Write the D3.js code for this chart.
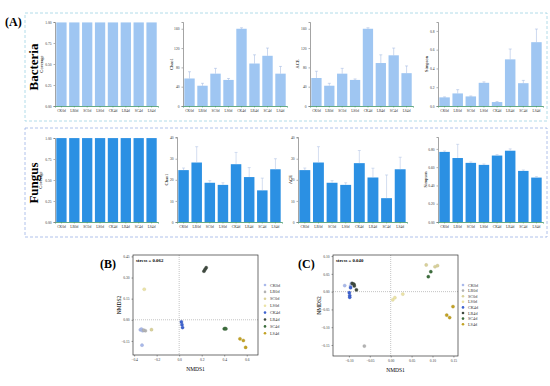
<!DOCTYPE html>
<html lang="en">
<head>
    <meta charset="UTF-8">
    <title>Alpha diversity and NMDS</title>
    <script src="https://d3js.org/d3.v7.min.js"></script>
    <style>
        body { margin: 0; background: #fff; }
        svg text { font-family: "Liberation Serif", "DejaVu Serif", serif; }
        .tick text { font-size: 3.6px; fill: #333; }
        .bold { font-weight: bold; }
    </style>
</head>
<body>
    <svg id="fig" width="550" height="386"></svg>

    <script>
        // ---- data ----
        const categories = ["CK0d", "LR0d", "SC0d", "LS0d", "CK4d", "LR4d", "SC4d", "LS4d"];

        const bacCoverage = [0.995, 0.995, 0.995, 0.995, 0.995, 0.995, 0.995, 0.995];
        const bacCoverageSd = [0, 0, 0, 0, 0, 0, 0, 0];
        const bacChao1 = [57, 42, 67, 54, 160, 88, 104, 67];
        const bacChao1Sd = [14, 5, 11, 3, 2, 18, 16, 15];
        const bacAce = [58, 42, 67, 54, 160, 89, 105, 68];
        const bacAceSd = [14, 5, 11, 2, 2, 17, 15, 15];
        const bacSimpson = [0.092, 0.134, 0.102, 0.247, 0.042, 0.497, 0.243, 0.68];
        const bacSimpsonSd = [0.005, 0.04, 0.005, 0.01, 0.005, 0.11, 0.03, 0.14];

        const funCoverage = [0.999, 0.999, 0.999, 0.999, 0.999, 0.999, 0.999, 0.999];
        const funCoverageSd = [0, 0, 0, 0, 0, 0, 0, 0];
        const funChao1 = [24.6, 28.2, 18.6, 17.6, 27.4, 21.3, 15.0, 25.0];
        const funChao1Sd = [1, 7.5, 1, 1, 5.6, 4.5, 5.8, 5];
        const funAce = [24.6, 28.2, 18.6, 17.6, 27.9, 21.1, 11.3, 25.0];
        const funAceSd = [1, 7.5, 1, 1, 6, 4.4, 11, 5.7];
        const funSimpson = [0.767, 0.70, 0.647, 0.625, 0.727, 0.78, 0.559, 0.486];
        const funSimpsonSd = [0.01, 0.15, 0.01, 0.01, 0.01, 0.02, 0.01, 0.01];

        const groupColors = ["#a9b9ea", "#b3b3b3", "#d9d19a", "#ebe3a6", "#3f63cf", "#3f4a3f", "#3d6e3d", "#c2a224"];

        // NMDS points [group index, NMDS1, NMDS2]
        const bacNmds = [
            [0, -0.345, -0.071], [0, -0.335, -0.066], [0, -0.325, -0.078],
            [1, -0.30, -0.078], [1, -0.315, -0.074],
            [2, -0.246, -0.070],
            [3, -0.31, 0.217],
            [0, -0.33, -0.18],
            [4, 0.02, -0.015], [4, 0.025, -0.035], [4, 0.03, -0.055],
            [5, 0.22, 0.345], [5, 0.23, 0.358], [5, 0.24, 0.37],
            [6, 0.40, -0.064], [6, 0.408, -0.062], [6, 0.415, -0.064],
            [7, 0.54, -0.135], [7, 0.57, -0.147], [7, 0.59, -0.196]
        ];
        const funNmds = [
            [0, -0.110, 0.017], [0, -0.096, 0.016], [0, -0.094, 0.023],
            [4, -0.099, -0.003], [4, -0.098, -0.011], [4, -0.098, -0.016], [4, -0.096, 0.011],
            [5, -0.092, 0.023], [5, -0.088, 0.021], [5, -0.087, 0.016], [5, -0.082, 0.005],
            [1, -0.063, -0.153],
            [3, 0.005, -0.023], [3, 0.010, -0.017], [3, 0.029, -0.007],
            [2, 0.085, 0.075], [2, 0.106, 0.070], [2, 0.112, 0.073],
            [6, 0.090, 0.042], [6, 0.096, 0.056],
            [7, 0.134, -0.066], [7, 0.141, -0.073], [7, 0.149, -0.042]
        ];
        const bacXTicks = [-0.4, -0.2, 0.0, 0.2, 0.4, 0.6];
        const bacYTicks = [-0.15, 0.00, 0.15, 0.30, 0.45];
        const funXTicks = [-0.10, -0.05, 0.00, 0.05, 0.10, 0.15];
        const funYTicks = [-0.15, -0.10, -0.05, 0.00, 0.05, 0.10];

        const svg = d3.select("#fig");

        // ---- panel (A) frames ----
        svg.append("rect").attr("x", 25).attr("y", 13).attr("width", 522).attr("height", 108)
            .attr("fill", "none").attr("stroke", "#9fd3e3").attr("stroke-width", 0.8).attr("stroke-dasharray", "3,2");
        svg.append("rect").attr("x", 25).attr("y", 128).attr("width", 522).attr("height", 109)
            .attr("fill", "none").attr("stroke", "#9cb3e6").attr("stroke-width", 0.8).attr("stroke-dasharray", "3,2");

        svg.append("text").attr("class", "bold").attr("x", 5).attr("y", 26)
            .attr("font-size", "12px").text("(A)");

        svg.append("text").attr("class", "bold").attr("font-size", "13px")
            .attr("transform", "translate(38,67) rotate(-90)").attr("text-anchor", "middle").text("Bacteria");
        svg.append("text").attr("class", "bold").attr("font-size", "13px")
            .attr("transform", "translate(38,183) rotate(-90)").attr("text-anchor", "middle").text("Fungus");

        function barPanel(opt) {
            const x = d3.scaleBand().domain(categories).range([opt.x0, opt.x1]).paddingInner(0.2).paddingOuter(0.1);
            const y = d3.scaleLinear().domain([0, opt.ymax]).range([opt.yb, opt.yt]);
            const g = svg.append("g");

            g.selectAll("rect.bar").data(opt.values).join("rect")
                .attr("class", "bar")
                .attr("x", (d, i) => x(categories[i]))
                .attr("width", x.bandwidth())
                .attr("y", d => y(d))
                .attr("height", d => y(0) - y(d))
                .attr("fill", opt.color);

            // error bars
            opt.values.forEach((v, i) => {
                if (!opt.sd[i]) return;
                const cx = x(categories[i]) + x.bandwidth() / 2;
                g.append("line").attr("x1", cx).attr("x2", cx)
                    .attr("y1", y(v)).attr("y2", y(v + opt.sd[i]))
                    .attr("stroke", opt.errColor).attr("stroke-width", 0.5);
                g.append("line").attr("x1", cx - 1.5).attr("x2", cx + 1.5)
                    .attr("y1", y(v + opt.sd[i])).attr("y2", y(v + opt.sd[i]))
                    .attr("stroke", opt.errColor).attr("stroke-width", 0.5);
            });

            const ya = g.append("g").attr("transform", `translate(${opt.x0},0)`)
                .call(d3.axisLeft(y).tickValues(opt.ticks).tickFormat(d3.format(opt.fmt)).tickSize(1.5).tickPadding(2));
            ya.select(".domain").attr("stroke", "#666").attr("stroke-width", 0.6);
            ya.selectAll(".tick line").attr("stroke", "#666").attr("stroke-width", 0.5);

            const xa = g.append("g").attr("transform", `translate(0,${opt.yb})`)
                .call(d3.axisBottom(x).tickSize(1.5).tickPadding(1.5));
            xa.select(".domain").attr("stroke", "#3f9466").attr("stroke-width", 0.8);
            xa.selectAll(".tick line").attr("stroke", "#3f9466").attr("stroke-width", 0.5);
            xa.selectAll(".tick text").attr("font-size", "3.6px");

            g.append("text").attr("font-size", "4.5px")
                .attr("transform", `translate(${opt.lx},${(opt.yb + opt.yt) / 2}) rotate(-90)`)
                .attr("text-anchor", "middle").text(opt.label);
        }

        const bacColor = "#9fc6f2", funColor = "#2b90e3";

        // bacteria row
        barPanel({ x0: 55, x1: 158, yb: 106, yt: 22, ymax: 1.0, ticks: [0, 0.25, 0.5, 0.75, 1.0], fmt: ".2f",
            values: bacCoverage, sd: bacCoverageSd, color: bacColor, errColor: "#9bb3de", label: "Coverage", lx: 43 });
        barPanel({ x0: 183, x1: 287, yb: 106, yt: 22, ymax: 174, ticks: [0, 40, 80, 120, 160], fmt: "d",
            values: bacChao1, sd: bacChao1Sd, color: bacColor, errColor: "#9bb3de", label: "Chao1", lx: 173 });
        barPanel({ x0: 310, x1: 413, yb: 106, yt: 22, ymax: 174, ticks: [0, 40, 80, 120, 160], fmt: "d",
            values: bacAce, sd: bacAceSd, color: bacColor, errColor: "#9bb3de", label: "ACE", lx: 299 });
        barPanel({ x0: 438, x1: 543, yb: 106, yt: 22, ymax: 0.895, ticks: [0, 0.2, 0.4, 0.6, 0.8], fmt: ".1f",
            values: bacSimpson, sd: bacSimpsonSd, color: bacColor, errColor: "#9bb3de", label: "Simpson", lx: 428 });

        // fungus row
        barPanel({ x0: 55, x1: 158, yb: 222, yt: 138, ymax: 1.0, ticks: [0, 0.25, 0.5, 0.75, 1.0], fmt: ".2f",
            values: funCoverage, sd: funCoverageSd, color: funColor, errColor: "#a8bce0", label: "Coverage", lx: 42 });
        barPanel({ x0: 177, x1: 282, yb: 222, yt: 137, ymax: 40.3, ticks: [0, 10, 20, 30, 40], fmt: "d",
            values: funChao1, sd: funChao1Sd, color: funColor, errColor: "#a8bce0", label: "Chao1", lx: 168 });
        barPanel({ x0: 298, x1: 407, yb: 222, yt: 137, ymax: 40.3, ticks: [0, 10, 20, 30, 40], fmt: "d",
            values: funAce, sd: funAceSd, color: funColor, errColor: "#a8bce0", label: "ACE", lx: 292 });
        barPanel({ x0: 438, x1: 543, yb: 222, yt: 137, ymax: 0.93, ticks: [0, 0.2, 0.4, 0.6, 0.8], fmt: ".2f",
            values: funSimpson, sd: funSimpsonSd, color: funColor, errColor: "#a8bce0", label: "Simpson", lx: 427 });

        // ---- NMDS panels ----
        function nmdsPanel(opt) {
            const x = d3.scaleLinear().domain(opt.xdom).range([opt.left, opt.right]);
            const y = d3.scaleLinear().domain(opt.ydom).range([opt.bottom, opt.top]);
            const g = svg.append("g");

            g.append("text").attr("class", "bold").attr("font-size", "12px")
                .attr("x", opt.tagX).attr("y", 268).text(opt.tag);

            g.append("line").attr("x1", x(0)).attr("x2", x(0)).attr("y1", opt.top).attr("y2", opt.bottom)
                .attr("stroke", "#888").attr("stroke-width", 0.5).attr("stroke-dasharray", "1,1");
            g.append("line").attr("x1", opt.left).attr("x2", opt.right).attr("y1", y(0)).attr("y2", y(0))
                .attr("stroke", "#888").attr("stroke-width", 0.5).attr("stroke-dasharray", "1,1");

            g.selectAll("circle.pt").data(opt.points).join("circle")
                .attr("class", "pt")
                .attr("cx", d => x(d[1])).attr("cy", d => y(d[2])).attr("r", 1.6)
                .attr("fill", d => groupColors[d[0]])
                .attr("stroke", d => d3.color(groupColors[d[0]]).darker(0.4)).attr("stroke-width", 0.3);

            const xa = g.append("g").attr("transform", `translate(0,${opt.bottom})`)
                .call(d3.axisBottom(x).tickValues(opt.xticks).tickFormat(d3.format(opt.xfmt)).tickSize(1.5).tickPadding(2));
            const ya = g.append("g").attr("transform", `translate(${opt.left},0)`)
                .call(d3.axisLeft(y).tickValues(opt.yticks).tickFormat(d3.format(".2f")).tickSize(1.5).tickPadding(2));
            [xa, ya].forEach(a => {
                a.select(".domain").remove();
                a.selectAll(".tick line").attr("stroke", "#444").attr("stroke-width", 0.5);
            });

            g.append("rect").attr("x", opt.left).attr("y", opt.top)
                .attr("width", opt.right - opt.left).attr("height", opt.bottom - opt.top)
                .attr("fill", "none").attr("stroke", "#333").attr("stroke-width", 0.7);

            g.append("text").attr("class", "bold").attr("font-size", "4.8px")
                .attr("x", opt.left + 3).attr("y", opt.top + 7).text(opt.stress);

            g.append("text").attr("font-size", "5.5px").attr("text-anchor", "middle")
                .attr("x", (opt.left + opt.right) / 2).attr("y", opt.bottom + 16).text("NMDS1");
            g.append("text").attr("font-size", "5.5px").attr("text-anchor", "middle")
                .attr("transform", `translate(${opt.left - 12},${(opt.top + opt.bottom) / 2}) rotate(-90)`).text("NMDS2");

            const lg = g.append("g").attr("transform", `translate(${opt.legX},${opt.legY})`);
            categories.forEach((c, i) => {
                lg.append("circle").attr("cx", 0).attr("cy", i * opt.legStep).attr("r", 1.3)
                    .attr("fill", groupColors[i]);
                lg.append("text").attr("x", 5).attr("y", i * opt.legStep + 1.5)
                    .attr("font-size", "4.2px").attr("fill", "#333").text(c);
            });
        }

        nmdsPanel({ tag: "(B)", tagX: 100, left: 133, right: 258, top: 255, bottom: 355,
            xdom: [-0.41, 0.70], ydom: [-0.25, 0.46], xticks: bacXTicks, yticks: bacYTicks, xfmt: ".1f",
            points: bacNmds, stress: "stress = 0.062", legX: 265, legY: 285, legStep: 6.9 });
        nmdsPanel({ tag: "(C)", tagX: 298, left: 333, right: 458, top: 255, bottom: 356,
            xdom: [-0.138, 0.161], ydom: [-0.181, 0.103], xticks: funXTicks, yticks: funYTicks, xfmt: ".2f",
            points: funNmds, stress: "stress = 0.040", legX: 463, legY: 285, legStep: 5.6 });
    </script>
</body>
</html>
